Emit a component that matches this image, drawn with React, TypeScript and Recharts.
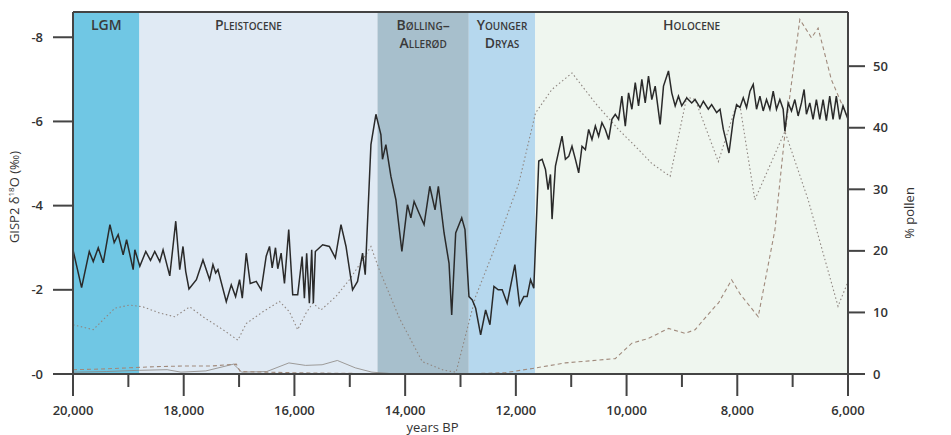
import React from 'react';
import { ComposedChart, Line, XAxis, YAxis, ReferenceArea, ReferenceLine } from 'recharts';

// GISP2 δ18O record (‰, plotted values)
const gispYears = [
  20000, 19845, 19706, 19634, 19544, 19454, 19333, 19256, 19184, 19094, 19032, 18913, 18883, 18793, 18685, 18600,
  18523, 18432, 18373, 18252, 18144, 18072, 18013, 17964, 17905, 17771, 17652, 17532, 17472, 17423, 17382, 17231,
  17141, 17063, 16991, 16942, 16870, 16798, 16690, 16600, 16510, 16450, 16402, 16342, 16301, 16240, 16180, 16103,
  16031, 15941, 15861, 15820, 15779, 15730, 15688, 15658, 15622, 15490, 15369, 15261, 15159, 15068, 14950, 14860,
  14769, 14721, 14618, 14528, 14438, 14409, 14348, 14258, 14167, 14059, 13958, 13897, 13838, 13748, 13658, 13555,
  13460, 13400, 13297, 13207, 13159, 13087, 12978, 12919, 12847, 12787, 12726, 12636, 12546, 12468, 12396, 12319,
  12247, 12157, 12018, 11933, 11856, 11796, 11735, 11676, 11586, 11526, 11465, 11418, 11375, 11346, 11285, 11166,
  11105, 11045, 10986, 10924, 10865, 10805, 10744, 10685, 10625, 10564, 10505, 10445, 10384, 10324, 10265, 10204,
  10144, 10085, 10023, 9964, 9904, 9843, 9784, 9724, 9663, 9604, 9544, 9483, 9393, 9333, 9243, 9184,
  9122, 9063, 9003, 8913, 8823, 8762, 8672, 8613, 8523, 8463, 8373, 8312, 8252, 8150, 8072, 8013,
  7951, 7892, 7832, 7771, 7712, 7652, 7591, 7532, 7472, 7411, 7351, 7292, 7231, 7171, 7140, 7081,
  7021, 6960, 6901, 6841, 6793, 6751, 6690, 6631, 6571, 6510, 6450, 6391, 6330, 6270, 6211, 6150,
  6090, 6000,
];
const gispD18O = [
  -2.95, -2.05, -2.91, -2.67, -3.0, -2.64, -3.55, -3.12, -3.31, -2.83, -3.19, -2.48, -2.95, -2.56, -2.91, -2.7,
  -2.91, -2.67, -2.95, -2.33, -3.63, -2.48, -3.03, -2.44, -2.02, -2.24, -2.71, -2.24, -2.6, -2.4, -2.48, -1.72,
  -2.12, -1.84, -2.24, -1.8, -2.87, -2.15, -2.2, -2.0, -2.8, -3.03, -2.52, -3.0, -2.5, -2.87, -2.15, -3.43,
  -1.88, -1.88, -2.79, -1.8, -2.87, -1.68, -2.95, -1.68, -2.91, -3.07, -3.03, -2.76, -3.55, -3.03, -2.0, -2.2,
  -2.87, -2.36, -5.45, -6.17, -5.69, -5.1, -5.45, -4.7, -4.14, -2.91, -4.02, -3.71, -4.1, -3.82, -3.55, -4.46,
  -3.9, -4.46, -3.35, -2.63, -1.4, -3.35, -3.71, -3.43, -1.84, -1.76, -1.56, -0.93, -1.52, -1.17, -2.08, -2.0,
  -2.0, -1.68, -2.6, -1.64, -1.84, -1.84, -2.24, -2.04, -5.06, -5.1, -4.86, -4.38, -4.74, -3.68, -4.94, -5.65,
  -5.1, -5.17, -5.41, -5.1, -4.78, -5.41, -5.33, -5.81, -5.57, -5.89, -5.65, -5.97, -5.81, -5.57, -6.05, -6.17,
  -6.05, -6.6, -5.89, -6.68, -6.29, -6.92, -6.37, -7.0, -6.44, -7.08, -6.52, -6.84, -5.93, -6.84, -7.2, -6.68,
  -6.37, -6.6, -6.37, -6.56, -6.44, -6.52, -6.33, -6.48, -6.29, -6.4, -6.21, -6.29, -5.81, -5.25, -6.05, -6.4,
  -6.33, -6.56, -6.33, -6.72, -6.88, -6.29, -6.6, -6.25, -6.52, -6.29, -6.72, -6.29, -6.52, -6.29, -5.77, -6.44,
  -6.25, -6.52, -6.13, -6.44, -6.76, -6.17, -6.44, -6.05, -6.52, -6.05, -6.52, -6.02, -6.6, -6.05, -6.6, -6.05,
  -6.37, -6.05,
];

// pollen curve, dotted
const dottedYears = [
  20000, 19634, 19243, 18973, 18733, 18432, 18162, 17892, 17652, 17292, 17022, 16870, 16571, 16270, 16090, 15941,
  15790, 15670, 15519, 15249, 15009, 14769, 14618, 14470, 14100, 13690, 13300, 13080, 12730, 12300, 11946, 11645,
  11350, 10985, 10564, 10144, 9843, 9544, 9213, 8913, 8762, 8342, 8042, 7950, 7683, 7140, 6720, 6180, 6000,
];
const dottedPct = [
  8.0, 7.2, 10.7, 11.2, 10.9, 9.9, 9.3, 10.9, 9.3, 7.2, 5.5, 8.2, 10.1, 11.8, 10.1, 7.2,
  9.9, 11.5, 10.4, 12.6, 15.3, 18.5, 20.7, 17.0, 9.0, 2.0, 0.6, 0.3, 12.5, 22.3, 31.0, 42.4,
  46.2, 48.9, 44.0, 39.7, 37.0, 34.2, 32.1, 45.0, 44.6, 34.5, 43.0, 43.5, 28.3, 39.4, 28.3, 11.0, 15.0,
];

// pollen curve, dashed
const dashedYears = [
  20000, 19500, 19000, 18500, 18000, 17500, 17050, 16980, 16500, 16000, 15000, 14000, 13000, 12200, 11700, 11105,
  10204, 9904, 9600, 9243, 8943, 8762, 8400, 8342, 8102, 7950, 7622, 7320, 7140, 6870, 6660, 6540, 6300, 6000,
];
const dashedPct = [
  0.7, 0.8, 1.0, 1.2, 1.3, 1.3, 1.6, 0.4, 0.3, 0.2, 0.1, 0.0, 0.0, 0.2, 0.9, 1.8,
  2.5, 5.0, 5.8, 7.4, 6.6, 7.2, 11.0, 11.5, 15.3, 13.0, 9.3, 23.4, 39.0, 57.6, 54.6, 56.2, 47.8, 41.5,
];

// pollen curve, thin solid
const thinYears = [20000, 19400, 18800, 18300, 18050, 17600, 17100, 16950, 16500, 16100, 15800, 15500, 15225, 14900, 14600, 14300];
const thinPct = [0.3, 0.4, 0.6, 0.7, 0.3, 0.5, 1.6, 0.3, 0.4, 1.8, 1.4, 1.5, 2.2, 1.0, 0.3, 0.1];

// periods
const periodNames = ['LGM', 'Pleistocene', 'Bølling–Allerød', 'Younger Dryas', 'Holocene'];
const periodStarts = [20000, 18800, 14500, 12850, 11650];
const periodEnds = [18800, 14500, 12850, 11650, 6000];
const periodLabelLines = [['LGM'], ['Pleistocene'], ['Bølling–', 'Allerød'], ['Younger', 'Dryas'], ['Holocene']];

// ticks
const xMajorTicks = [20000, 18000, 16000, 14000, 12000, 10000, 8000, 6000];
const xMinorTicks = [19000, 17000, 15000, 13000, 11000, 9000, 7000];
const leftTicks = [-8, -6, -4, -2, 0];
const rightTicks = [0, 10, 20, 30, 40, 50];

const periodColors = ['#70c7e4', '#e0eaf4', '#a7bfcc', '#b6d8ee', '#eff6ef'];
const periodLabelDx = [0, -10, 0, 0, 0];

const FONT = "'Open Sans', 'DejaVu Sans', sans-serif";
const AXIS = '#444';

const toSeries = (xs: number[], ys: number[]) => xs.map((year, i) => ({ year, v: ys[i] }));
const gispData = toSeries(gispYears, gispD18O);
const dottedData = toSeries(dottedYears, dottedPct);
const dashedData = toSeries(dashedYears, dashedPct);
const thinData = toSeries(thinYears, thinPct);

const XTick = (props: any) => {
  const { x, y, payload } = props;
  const major = xMajorTicks.includes(payload.value);
  return (
    <g>
      <line x1={x} x2={x} y1={y} y2={y + (major ? 22 : 13)} stroke={AXIS} strokeWidth={2} />
      {major && (
        <text x={x} y={y + 41} textAnchor="middle" fontFamily={FONT} fontWeight={600} fontSize={13} fill="#333">
          {payload.value.toLocaleString('en-US')}
        </text>
      )}
    </g>
  );
};

const bandLabel = (lines: string[], dx: number) => (props: any) => {
  const vb = props.viewBox;
  if (!vb) return null;
  const cx = vb.x + vb.width / 2 + dx;
  return (
    <text
      x={cx}
      y={vb.y + 18}
      textAnchor="middle"
      fontFamily={FONT}
      fontSize={14}
      fontWeight={600}
      fill="#3a3a3a"
      style={{ fontVariant: 'small-caps' }}
    >
      {lines.map((l, i) => (
        <tspan key={i} x={cx} dy={i === 0 ? 0 : 18}>
          {l}
        </tspan>
      ))}
    </text>
  );
};

const XLabel = (props: any) => {
  const vb = props.viewBox;
  if (!vb) return null;
  return (
    <text x={vb.x + vb.width / 2 - 28} y={vb.y + 58} textAnchor="middle" fontFamily={FONT} fontSize={13} fill="#333">
      years BP
    </text>
  );
};

const LeftLabel = () => (
  <text
    transform="translate(19,197) rotate(-90)"
    textAnchor="middle"
    fontFamily={FONT}
    fontSize={13}
    fill="#333"
  >
    GISP2 δ
    <tspan fontSize={8} dy={-5}>18</tspan>
    <tspan dy={5}>O (‰)</tspan>
  </text>
);

const RightLabel = () => (
  <text transform="translate(914,213) rotate(-90)" textAnchor="middle" fontFamily={FONT} fontSize={13} fill="#333">
    % pollen
  </text>
);

export default function App() {
  return (
    <div style={{ position: 'absolute', left: 0, top: 0, width: 951, height: 435, background: '#fff' }}>
      <ComposedChart width={951} height={435} margin={{ top: 12, right: 43, bottom: 16, left: 0 }}>
        <XAxis
          type="number"
          dataKey="year"
          domain={[6000, 20000]}
          reversed
          allowDataOverflow
          ticks={[...xMajorTicks, ...xMinorTicks].sort((a, b) => b - a)}
          interval={0}
          tick={<XTick />}
          tickLine={false}
          tickSize={0}
          tickMargin={0}
          height={45}
          axisLine={{ stroke: AXIS, strokeWidth: 2 }}
          label={XLabel}
        />
        <YAxis
          yAxisId="left"
          orientation="left"
          domain={[-8.6, 0]}
          reversed
          allowDataOverflow
          ticks={leftTicks}
          interval={0}
          width={73}
          tickSize={20}
          tickMargin={10}
          tickFormatter={(v: number) => (v === 0 ? '-0' : String(v))}
          tick={{ fontFamily: FONT, fontWeight: 600, fontSize: 13, fill: '#333' }}
          tickLine={{ stroke: AXIS, strokeWidth: 2 }}
          axisLine={{ stroke: AXIS, strokeWidth: 2 }}
        />
        <YAxis
          yAxisId="right"
          orientation="right"
          domain={[0, 58.8]}
          allowDataOverflow
          ticks={rightTicks}
          interval={0}
          width={60}
          tickSize={17}
          tickMargin={8}
          tick={{ fontFamily: FONT, fontWeight: 600, fontSize: 13, fill: '#333' }}
          tickLine={{ stroke: AXIS, strokeWidth: 2 }}
          axisLine={{ stroke: AXIS, strokeWidth: 2 }}
        />
        {periodNames.map((name, i) => (
          <ReferenceArea
            key={name}
            yAxisId="left"
            x1={periodStarts[i]}
            x2={periodEnds[i]}
            fill={periodColors[i]}
            fillOpacity={1}
            stroke="none"
            ifOverflow="visible"
            label={bandLabel(periodLabelLines[i], periodLabelDx[i])}
          />
        ))}
        <ReferenceLine yAxisId="left" y={-8.6} stroke={AXIS} strokeWidth={2} ifOverflow="visible" />
        <Line
          yAxisId="right"
          data={thinData}
          dataKey="v"
          type="linear"
          stroke="#8a8580"
          strokeWidth={0.8}
          dot={false}
          isAnimationActive={false}
        />
        <Line
          yAxisId="right"
          data={dashedData}
          dataKey="v"
          type="linear"
          stroke="#a08a7c"
          strokeWidth={1.1}
          strokeDasharray="4 3"
          dot={false}
          isAnimationActive={false}
        />
        <Line
          yAxisId="right"
          data={dottedData}
          dataKey="v"
          type="linear"
          stroke="#8f8680"
          strokeWidth={1.1}
          strokeDasharray="1.5 2.5"
          dot={false}
          isAnimationActive={false}
        />
        <Line
          yAxisId="left"
          data={gispData}
          dataKey="v"
          type="linear"
          stroke="#2a2a2a"
          strokeWidth={1.5}
          dot={false}
          isAnimationActive={false}
        />
        <LeftLabel />
        <RightLabel />
      </ComposedChart>
    </div>
  );
}
